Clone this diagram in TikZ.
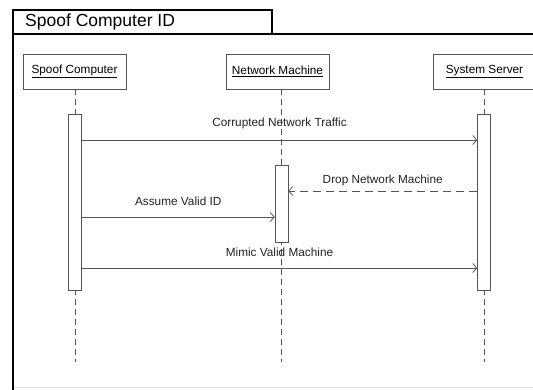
\documentclass[tikz,border=0pt]{standalone}
\usepackage{fontspec}
\setmainfont{Liberation Sans}
\usetikzlibrary{arrows.meta}

\definecolor{linegray}{HTML}{555555}
\definecolor{txtgray}{HTML}{222222}

\tikzset{
	head/.style={draw=linegray, fill=white, minimum width=103pt, minimum height=35pt, inner sep=0pt},
	act/.style={draw=linegray, fill=white, minimum width=13pt, inner sep=0pt},
	life/.style={draw=linegray, dash pattern=on 6pt off 4pt, line width=0.9pt},
	msg/.style={draw=linegray, line width=0.8pt, ->},
	reply/.style={msg, dash pattern=on 8pt off 5pt},
	lbl/.style={text=txtgray, inner sep=0pt}
}

\begin{document}
\begin{tikzpicture}[x=1pt, y=-1pt, every node/.style={font=\fontsize{11.8}{13}\selectfont}, >={Straight Barb[length=4pt,width=9pt]}]
	\useasboundingbox (0,0) rectangle (533,389);
	% frame with title tab
	\draw[line width=2.4pt] (13,400) -- (13,10) -- (272,10) -- (272,34);
	\draw[line width=2.2pt] (13,34) -- (545,34);
	\draw[gray!25, line width=0.8pt] (14,387.5) -- (533,387.5);
	\node[lbl, anchor=west, font=\fontsize{17.5}{20}\selectfont, text=black] (title) at (25,22) {Spoof Computer ID};
	% lifeline heads
	\node[head] (sc) at (74.5,71.5) {\underline{Spoof Computer}};
	\node[head] (nm) at (277.5,71.5) {\underline{Network Machine}};
	\node[head] (ss) at (484.5,71.5) {\underline{System Server}};
	\coordinate (scend) at (75,362);
	\coordinate (nmend) at (281.5,362);
	\coordinate (ssend) at (484,362);
	\draw[life] (sc.south -| scend) -- (scend);
	\draw[life] (nm.south -| nmend) -- (nmend);
	\draw[life] (ss.south -| ssend) -- (ssend);
	% activations
	\node[act, minimum height=176pt] (sca) at (75,202) {};
	\node[act, minimum height=77pt] (nma) at (281.5,203.5) {};
	\node[act, minimum height=176pt] (ssa) at (484,202) {};
	% messages
	\coordinate (r1) at (0,140);
	\coordinate (r2) at (0,191);
	\coordinate (r3) at (0,217);
	\coordinate (r4) at (0,268);
	\draw[msg] (sca.east |- r1) -- node[lbl, above=11pt] (m1) {Corrupted Network Traffic} (ssa.west |- r1);
	\draw[reply] (ssa.west |- r2) -- node[lbl, above=5pt] (m2) {Drop Network Machine} (nma.east |- r2);
	\draw[msg] (sca.east |- r3) -- node[lbl, above=11pt] (m3) {Assume Valid ID} (nma.west |- r3);
	\draw[msg] (sca.east |- r4) -- node[lbl, above=11pt] (m4) {Mimic Valid Machine} (ssa.west |- r4);
\end{tikzpicture}
\end{document}
